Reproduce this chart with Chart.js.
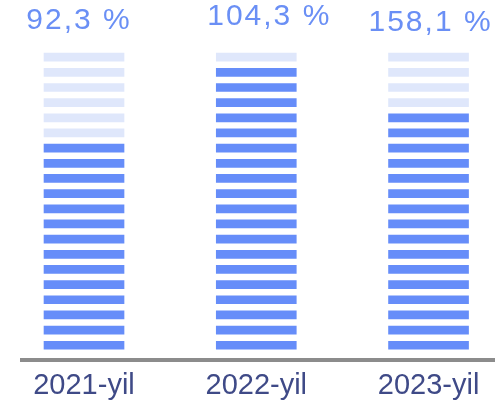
<!DOCTYPE html>
<html>
<head>
<meta charset="utf-8">
<script src="https://cdn.jsdelivr.net/npm/chart.js@4"></script>
<style>
  html, body { margin: 0; padding: 0; background: #fff; }
  #wrap { width: 504px; height: 407px; }
</style>
</head>
<body>
<div id="wrap"><canvas id="bars"></canvas></div>
<script>
const categories = ['2021-yil', '2022-yil', '2023-yil'];
const percentLabels = ['92,3 %', '104,3 %', '158,1 %'];
const filledSegments = [14, 19, 16];
const totalSegments = 20;

const darkBlue = '#668df9';
const lightBlue = '#dfe7fb';

// one dataset per stripe, floating bar [i, i + 0.53]
const datasets = [];
for (let i = 0; i < totalSegments; i++) {
  datasets.push({
    data: categories.map((c, j) => ({ x: j, y: [i, i + 0.53] })),
    backgroundColor: categories.map((c, j) => i < filledSegments[j] ? darkBlue : lightBlue),
    barThickness: 80,
    borderWidth: 0
  });
}

const topLabels = {
  id: 'topLabels',
  afterDatasetsDraw(chart) {
    const ctx = chart.ctx;
    const x = chart.scales.x;
    // small hand nudges, the labels are not quite centred in the original
    const dx = [-5, 13, 2];
    const ys = [21, 17, 23];
    ctx.save();
    ctx.font = '30px "Liberation Sans", Arial, sans-serif';
    ctx.letterSpacing = '2px';
    ctx.fillStyle = '#6a8ff5';
    ctx.textAlign = 'center';
    ctx.textBaseline = 'middle';
    percentLabels.forEach((t, j) => {
      ctx.fillText(t, x.getPixelForValue(j) + dx[j], ys[j]);
    });
    ctx.restore();
  }
};

new Chart(document.getElementById('bars'), {
  type: 'bar',
  data: { datasets: datasets },
  options: {
    responsive: true,
    maintainAspectRatio: false,
    animation: false,
    layout: { padding: { top: 46, left: 22, right: 10, bottom: -4 } },
    plugins: { legend: { display: false }, tooltip: { enabled: false } },
    scales: {
      x: {
        type: 'linear',
        stacked: true,
        offset: false,
        min: -0.36,
        max: 2.38,
        afterBuildTicks(axis) {
          axis.ticks = categories.map((c, j) => ({ value: j }));
        },
        grid: { display: false, drawTicks: false, offset: false },
        border: { display: true, color: '#8c8c8c', width: 4 },
        ticks: {
          padding: 8,
          color: '#3f4a87',
          font: { family: '"Liberation Sans", Arial, sans-serif', size: 29 },
          callback: (v) => categories[v]
        }
      },
      y: {
        display: false,
        stacked: false,
        min: -0.72,
        max: 20
      }
    }
  },
  plugins: [topLabels]
});
</script>
</body>
</html>
